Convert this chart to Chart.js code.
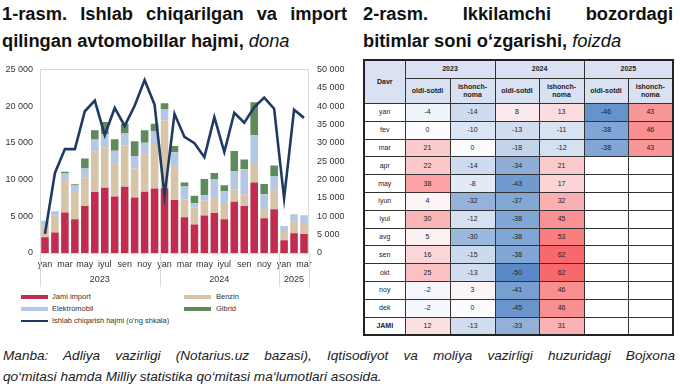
<!DOCTYPE html>
<html>
<head>
<meta charset="utf-8">
<script src="https://cdn.jsdelivr.net/npm/chart.js@4.4.1/dist/chart.umd.min.js"></script>
<style>
    body { margin: 0; width: 680px; height: 386px; background: #fff; position: relative; overflow: hidden;
        font-family: "Liberation Sans", Arial, sans-serif; color: #222; }
    .titulo { position: absolute; top: 0px; font-weight: bold; font-size: 18.3px; line-height: 27px; color: #111; }
    .titulo i { font-weight: normal; }
    .justo { text-align: justify; text-align-last: justify; white-space: nowrap; }
    #titulo1 { left: 2px; width: 345px; }
    #titulo2 { left: 363px; width: 310px; }
    #grafico { position: absolute; left: 0; top: 56px; }
    .leg { position: absolute; font-size: 7.5px; color: #333; line-height: 10px; }
    .amostra { position: absolute; width: 27px; height: 4px; }
    #tabela { position: absolute; left: 363px; top: 59px; border-collapse: collapse; table-layout: fixed;
        width: 311px; font-size: 7px; border: 2px solid #222; }
    #tabela td, #tabela th { border: 1px solid #333; padding: 0; text-align: center; line-height: 8px; }
    #tabela th { background: #d9e1f2; font-weight: bold; }
    #tabela tr { height: 17.8px; }
    #fonte { position: absolute; left: 3px; top: 345px; width: 672px; font-style: italic; font-size: 13.6px;
        line-height: 21px; color: #222; }
</style>
</head>
<body>

<div class="titulo" id="titulo1">
    <div class="justo">1-rasm. Ishlab chiqarilgan va import</div>
    <div>qilingan avtomobillar hajmi, <i>dona</i></div>
</div>
<div class="titulo" id="titulo2">
    <div class="justo">2-rasm. Ikkilamchi bozordagi</div>
    <div>bitimlar soni o‘zgarishi, <i>foizda</i></div>
</div>

<canvas id="grafico" width="350" height="236"></canvas>

<div class="amostra" style="left:21px; top:295px; background:#c12c4f;"></div>
<div class="leg" style="left:52px; top:292px;">Jami import</div>
<div class="amostra" style="left:184px; top:295px; background:#d8c4a8;"></div>
<div class="leg" style="left:216px; top:292px;">Benzin</div>
<div class="amostra" style="left:21px; top:307px; background:#b4c7e4;"></div>
<div class="leg" style="left:52px; top:304px;">Elektromobil</div>
<div class="amostra" style="left:184px; top:307px; background:#5f8a5c;"></div>
<div class="leg" style="left:216px; top:304px;">Gibrid</div>
<div class="amostra" style="left:21px; top:320px; height:2px; background:#213a63;"></div>
<div class="leg" style="left:52px; top:316px;">Ishlab chiqarish hajmi (o‘ng shkala)</div>

<table id="tabela">
    <colgroup>
        <col style="width:41px"><col style="width:45px"><col style="width:45px"><col style="width:44px">
        <col style="width:45px"><col style="width:44px"><col style="width:45px">
    </colgroup>
    <tr style="height:18px"><th rowspan="2">Davr</th><th colspan="2">2023</th><th colspan="2">2024</th><th colspan="2">2025</th></tr>
    <tr style="height:25.5px"><th>oldi-sotdi</th><th>ishonch-<br>noma</th><th>oldi-sotdi</th><th>ishonch-<br>noma</th><th>oldi-sotdi</th><th>ishonch-<br>noma</th></tr>
</table>

<div id="fonte">
    <div class="justo">Manba: Adliya vazirligi (Notarius.uz bazasi), Iqtisodiyot va moliya vazirligi huzuridagi Bojxona</div>
    <div>qo‘mitasi hamda Milliy statistika qo‘mitasi ma‘lumotlari asosida.</div>
</div>

<script>
// dados do grafico 1 (2023 yan - 2025 mar)
var meses = ['yan', 'fev', 'mar', 'apr', 'may', 'iyun', 'iyul', 'avg', 'sen', 'okt', 'noy', 'dek',
    'yan', 'fev', 'mar', 'apr', 'may', 'iyun', 'iyul', 'avg', 'sen', 'okt', 'noy', 'dek',
    'yan', 'fev', 'mar'];
var anos = ['2023', '2024', '2025'];
var mesesPorAno = [12, 12, 3];

var jamiImport = [2150, 2780, 5510, 4610, 6400, 8290, 8900, 7700, 9020, 7570, 8330, 8780,
    8800, 7200, 4870, 3890, 5100, 5450, 4600, 6970, 6390, 9610, 4740, 5950,
    1740, 2680, 2590];
var benzin = [1570, 2370, 4390, 3680, 3860, 5510, 5480, 4440, 5630, 3940, 5110, 6050,
    9250, 4600, 2460, 2320, 2010, 2190, 2060, 1660, 1610, 2500, 1250, 2590,
    1120, 1570, 1480];
var elektromobil = [680, 540, 1000, 890, 1250, 1660, 1790, 1790, 1610, 1710, 1570, 1790,
    1570, 1920, 1740, 580, 760, 2420, 1790, 2500, 3400, 3940, 2010, 1960,
    810, 1020, 1070];
var gibrid = [0, 0, 170, 180, 1350, 1250, 1660, 1570, 1340, 2010, 1700, 980,
    760, 850, 540, 990, 2190, 850, 760, 2770, 1340, 4470, 1390, 1430,
    0, 0, 0];
var ishlab = [5200, 21800, 28300, 28300, 38600, 41500, 32100, 39500, 34600, 40100, 47100, 40400,
    15600, 37900, 31600, 29900, 26100, 37000, 27500, 38200, 35500, 39700, 42300, 39300,
    14900, 39000, 36800];

// dados da tabela (grafico 2)
var davr = ['yan', 'fev', 'mar', 'apr', 'may', 'iyun', 'iyul', 'avg', 'sen', 'okt', 'noy', 'dek', 'JAMI'];
var oldi2023 = [-4, 0, 21, 22, 38, 4, 30, 5, 16, 25, -2, -2, 12];
var ishonch2023 = [-14, -10, 0, -14, -8, -32, -12, -30, -15, -13, 3, 0, -13];
var oldi2024 = [8, -13, -18, -34, -43, -37, -38, -38, -38, -50, -41, -45, -33];
var ishonch2024 = [13, -11, -12, 21, 17, 32, 45, 53, 62, 62, 46, 46, 31];
var oldi2025 = [-46, -38, -38, null, null, null, null, null, null, null, null, null, null];
var ishonch2025 = [43, 46, 43, null, null, null, null, null, null, null, null, null, null];

function formatar(v) {
    if (v < 1000) return '' + v;
    return Math.floor(v / 1000) + ' ' + ('00' + (v % 1000)).slice(-3);
}

// caixa do grafico, linhas dos anos e rotulos dos anos
var anosPlugin = {
    id: 'anos',
    beforeDatasetsDraw: function (chart) {
        var c = chart.ctx;
        var area = chart.chartArea;
        c.save();
        c.strokeStyle = '#d9d9d9';
        c.lineWidth = 1;
        c.strokeRect(Math.round(area.left) + 0.5, Math.round(area.top) + 0.5,
            Math.round(area.width) - 1, Math.round(area.height));
        c.restore();
    },
    afterDraw: function (chart) {
        var c = chart.ctx;
        var area = chart.chartArea;
        var x = chart.scales.x;
        var limites = [area.left];
        var k = 0;
        for (var i = 0; i < mesesPorAno.length; i++) {
            k = k + mesesPorAno[i];
            if (k >= meses.length) {
                limites.push(area.right);
            } else {
                limites.push((x.getPixelForValue(k - 1) + x.getPixelForValue(k)) / 2);
            }
        }
        c.save();
        c.strokeStyle = '#d9d9d9';
        c.lineWidth = 1;
        for (var j = 0; j < limites.length; j++) {
            var px = Math.round(limites[j]) + 0.5;
            c.beginPath();
            c.moveTo(px, area.bottom);
            c.lineTo(px, 231);
            c.stroke();
        }
        c.fillStyle = '#333';
        c.font = '9px "Liberation Sans", Arial, sans-serif';
        c.textAlign = 'center';
        c.textBaseline = 'middle';
        for (var a = 0; a < anos.length; a++) {
            c.fillText(anos[a], (limites[a] + limites[a + 1]) / 2, 223.5);
        }
        c.restore();
    }
};

var ctx = document.getElementById("grafico").getContext("2d");
var grafico = new Chart(ctx, {
    type: 'bar',
    data: {
        labels: meses,
        datasets: [
            { type: 'line', label: 'Ishlab chiqarish hajmi (o‘ng shkala)', data: ishlab, yAxisID: 'y2',
                borderColor: '#213a63', borderWidth: 2.6, pointRadius: 0, tension: 0, order: 0 },
            { label: 'Jami import', data: jamiImport, backgroundColor: '#c12c4f', yAxisID: 'y', order: 1 },
            { label: 'Benzin', data: benzin, backgroundColor: '#d8c4a8', yAxisID: 'y', order: 1 },
            { label: 'Elektromobil', data: elektromobil, backgroundColor: '#b4c7e4', yAxisID: 'y', order: 1 },
            { label: 'Gibrid', data: gibrid, backgroundColor: '#5f8a5c', yAxisID: 'y', order: 1 }
        ]
    },
    options: {
        responsive: false,
        animation: false,
        devicePixelRatio: 1,
        layout: { padding: { top: 10.5, left: 0, right: 0, bottom: 0 } },
        datasets: { bar: { categoryPercentage: 1, barPercentage: 0.76 } },
        plugins: { legend: { display: false }, tooltip: { enabled: false } },
        scales: {
            x: {
                stacked: true,
                grid: { display: false, drawTicks: false },
                border: { display: false },
                ticks: {
                    autoSkip: false, maxRotation: 0, padding: 6, color: '#333',
                    font: { size: 9, family: '"Liberation Sans", Arial, sans-serif' },
                    callback: function (v, i) { return i % 2 == 0 ? meses[i] : ''; }
                },
                afterFit: function (s) { s.height = 39; }
            },
            y: {
                stacked: true, min: 0, max: 25000, position: 'left',
                grid: { display: false, drawTicks: false },
                border: { display: false },
                ticks: {
                    stepSize: 5000, padding: 7, color: '#333',
                    font: { size: 9, family: '"Liberation Sans", Arial, sans-serif' },
                    callback: formatar
                },
                afterFit: function (s) { s.width = 40; }
            },
            y2: {
                min: 0, max: 50000, position: 'right',
                grid: { display: false, drawTicks: false },
                border: { display: false },
                ticks: {
                    stepSize: 5000, padding: 8, color: '#333',
                    font: { size: 9, family: '"Liberation Sans", Arial, sans-serif' },
                    callback: formatar
                },
                afterFit: function (s) { s.width = 41; }
            }
        }
    },
    plugins: [anosPlugin]
});

// cores da tabela: azul (-50) - branco (0) - vermelho (62)
function cor(v) {
    if (v === null) return '#ffffff';
    var branco = [252, 252, 255];
    var azul = [90, 138, 198];
    var vermelho = [248, 105, 107];
    var alvo, t;
    if (v < 0) { alvo = azul; t = Math.min(1, v / -50); }
    else { alvo = vermelho; t = Math.min(1, v / 62); }
    var r = Math.round(branco[0] + (alvo[0] - branco[0]) * t);
    var g = Math.round(branco[1] + (alvo[1] - branco[1]) * t);
    var b = Math.round(branco[2] + (alvo[2] - branco[2]) * t);
    return 'rgb(' + r + ',' + g + ',' + b + ')';
}

var tabela = document.getElementById("tabela");
var colunas = [oldi2023, ishonch2023, oldi2024, ishonch2024, oldi2025, ishonch2025];
for (var i = 0; i < davr.length; i++) {
    var tr = document.createElement("tr");
    var td = document.createElement("td");
    td.textContent = davr[i];
    if (davr[i] == 'JAMI') td.style.fontWeight = 'bold';
    tr.appendChild(td);
    for (var j = 0; j < colunas.length; j++) {
        var cel = document.createElement("td");
        var v = colunas[j][i];
        cel.textContent = v === null ? '' : v;
        cel.style.background = cor(v);
        tr.appendChild(cel);
    }
    tabela.appendChild(tr);
}
</script>
</body>
</html>
